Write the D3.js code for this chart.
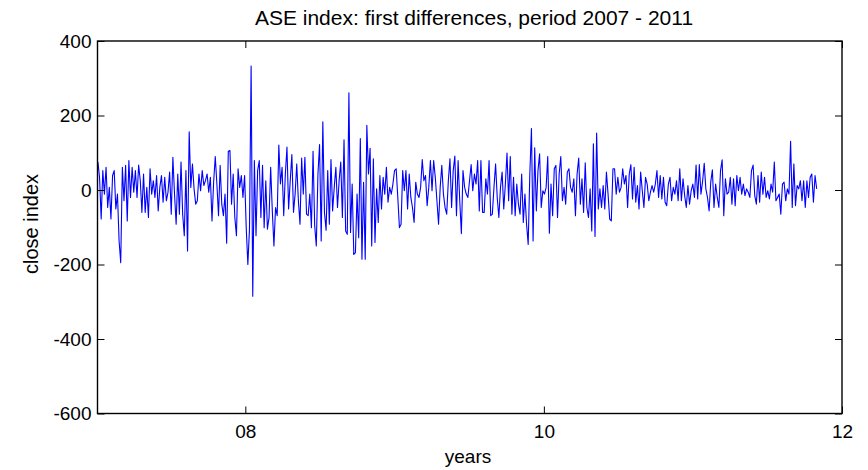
<!DOCTYPE html>
<html>
<head>
<meta charset="utf-8">
<script src="https://cdn.jsdelivr.net/npm/d3@7"></script>
<style>
  body { margin: 0; background: #fff; }
  text { font-family: "Liberation Sans", Arial, sans-serif; }
</style>
</head>
<body>
<svg width="868" height="470"></svg>
<script>
// first differences of the ASE close index (one value per ~1.7px)
const diffs = [
    75, 34, -78, 52, -11, 61, -47, 7, -78, 39, 52, -51, -11, -137, -195, 61, -29, 66, -83, 79,
    -20, 61, -6, 52, -20, 67, 25, -60, 43, -60, 7, -74, 57, -11, 25, -20, 39, -56, 7, 39,
    -33, 34, -29, -6, 48, -65, 88, -11, -92, 43, -65, 75, -65, -123, 52, -164,
    156, 7, 70, 3, -38, -29, 43, -2, 52, 12, 25, 43, -6, 34, -83, 21, 90, 16, -69, 66,
    -38, -69, -11, -143, 104, 106, -38, 43, -74, -123, 57, 7, 39, -20, 39, -101, -200, -105, 333, -285,
    79, -123, 52, 79, -74, 66, -101, 25, -105, -74, 61, -56, -150, -47, -69, 121, 16, 61, -69, 43, 115,
    -51, 25, 95, -60, -11, 70, -29, -92, 86, -11, 88, -65, -69, -11, -101, 104, -96, -150, 43, 122,
    -137, 183, -60, -108, 52, -92, 82, -56, 7, 61, -47, 25, 75, -74, 135, -110, -119, 261, -114, 16,
    -173, -168, -11, -128, 138, -186, 21, -186, 174, 43, 112, -150, 84, -141, 3, -87, 39, -51, 34,
    -11, 61, -33, 7, -11, 16, 52, 57, -20, -101, -92, 52, -2, 52, -51, 43, -20, -47, -87, 21,
    -11, -20, 7, 82, 25, 39, -42, 7, 79, -2, 79, 34, -29, -92, 7, 66, -11, -47, -65, 25,
    84, -47, 52, 91, -69, 79, -29, -117, 52, 7, -11, -20, 25, 68, -2, 43, 16, 79,
    -56, 79, -60, -60, 30, -11, 79, -69, -65, 7, 70, -20, -74, 7, 48, -51, 16, 99, -29, 90,
    -65, 34, -69, 16, -38, -65, 43, -87, -11, -92, -146, 43, 165, -137, 113, -56, 52, 97, -47, -2,
    -11, 7, 90, -116, 16, -69, 57, 66, -74, 43, 90, -29, 7, -38, 48, 57, 7, -6, 30, -69,
    43, 86, -38, 30, -60, 73, -47, -74, 3, -110, 124, -125, 153, -51, 3, -47, 12, -51, 48, -11,
    -78, -83, 57, 57, -11, 34, -6, 7, 57, 16, 39, -47, 43, 68, -24, 61, -33, 12, -51, 48,
    -2, -47, 34, 16, -29, -6, 12, -6, 16, 52, -20, 39, -24, 34, -33, -42, 16,
    34, -29, 7, -11, 25, -29, 57, -29, 30, -15, -47, 12, -38, -2, 16, -20, 67, -24, 68, -11,
    23, 72, 3, -20, -56, 21, 54, -47, 16, -20, -47, 52, 81, -69, 30, -11, -6, 34, -38, 30,
    -42, 39, -2, 34, -11, 16, -15, 3, -6, -20, 52, 67, -15, -38, 39, -33, 48, -11,
    34, -20, -2, -24, 16, -6, 75, -29, -20, -11, -65, 16, 21, -29, 3, -11, 131, -47, 70, -42,
    12, 3, 25, -29, 25, -47, 25, -20, 34, 43, -33, 39, 3
];
const firstDay = new Date(2007, 0, 5);
const lastDay = new Date(2011, 9, 31);
const xDomain = [new Date(2007, 0, 4), new Date(2012, 0, 1)];
const xTicks = [new Date(2008, 0, 1), new Date(2010, 0, 1), new Date(2012, 0, 1)];
const yTicks = [-600, -400, -200, 0, 200, 400];

function main() {
    const svg = d3.select("svg");
    const box = {left: 97.5, right: 842, top: 41, bottom: 413.5};

    const x = d3.scaleTime().domain(xDomain).range([box.left, box.right]);
    const y = d3.scaleLinear().domain([-600, 400]).range([box.bottom, box.top]);

    // evenly spaced sample dates between first and last day
    const step = (lastDay - firstDay) / (diffs.length - 1);
    const data = diffs.map((v, i) => ({date: new Date(+firstDay + i * step), value: v}));

    const line = d3.line()
        .x(d => x(d.date))
        .y(d => y(d.value));

    svg.append("path")
        .datum(data)
        .attr("d", line)
        .attr("fill", "none")
        .attr("stroke", "#0000ff")
        .attr("stroke-width", 1.1)
        .attr("stroke-linejoin", "round");

    const tickLen = 7;
    const fmt = d3.timeFormat("%y");
    const yFmt = d => String(d);

    // bottom / top x axes, left / right y axes, all with inward ticks
    const xb = svg.append("g")
        .attr("transform", "translate(0," + box.bottom + ")")
        .call(d3.axisBottom(x).tickValues(xTicks).tickFormat(fmt).tickSizeInner(-tickLen).tickSizeOuter(0).tickPadding(11));
    const xt = svg.append("g")
        .attr("transform", "translate(0," + box.top + ")")
        .call(d3.axisTop(x).tickValues(xTicks).tickFormat("").tickSizeInner(-tickLen).tickSizeOuter(0));
    const yl = svg.append("g")
        .attr("transform", "translate(" + box.left + ",0)")
        .call(d3.axisLeft(y).tickValues(yTicks).tickFormat(yFmt).tickSizeInner(-tickLen).tickSizeOuter(0).tickPadding(6));
    const yr = svg.append("g")
        .attr("transform", "translate(" + box.right + ",0)")
        .call(d3.axisRight(y).tickValues(yTicks).tickFormat("").tickSizeInner(-tickLen).tickSizeOuter(0));

    [xb, xt, yl, yr].forEach(g => {
        g.select(".domain").remove();
        g.selectAll(".tick line").attr("stroke", "#000").attr("stroke-width", 1);
        g.selectAll(".tick text")
            .attr("fill", "#000")
            .style("font-size", "19px")
            .style("font-family", "'Liberation Sans', Arial, sans-serif");
    });

    svg.append("rect")
        .attr("x", box.left)
        .attr("y", box.top)
        .attr("width", box.right - box.left)
        .attr("height", box.bottom - box.top)
        .attr("fill", "none")
        .attr("stroke", "#000")
        .attr("stroke-width", 1.4);

    svg.append("text")
        .attr("x", 474)
        .attr("y", 25)
        .attr("text-anchor", "middle")
        .style("font-size", "21px")
        .text("ASE index: first differences, period 2007 - 2011");

    svg.append("text")
        .attr("x", 468)
        .attr("y", 463)
        .attr("text-anchor", "middle")
        .style("font-size", "19px")
        .text("years");

    svg.append("text")
        .attr("transform", "translate(38,224) rotate(-90)")
        .attr("text-anchor", "middle")
        .style("font-size", "20px")
        .text("close index");
}

main();
</script>
</body>
</html>
